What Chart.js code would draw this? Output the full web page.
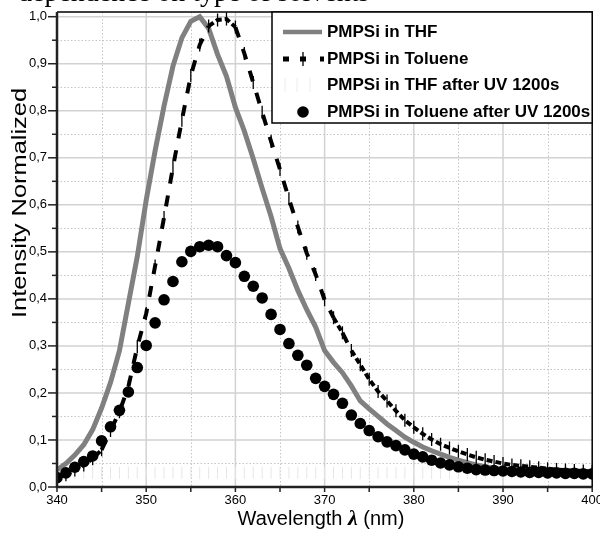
<!DOCTYPE html>
<html><head><meta charset="utf-8">
<style>html,body{margin:0;padding:0;background:#fff;}#wrap{position:relative;width:600px;height:534px;}</style>
<script src="https://cdn.jsdelivr.net/npm/chart.js@4.4.0/dist/chart.umd.min.js"></script>
</head><body><div id="wrap"><canvas id="c" width="600" height="534"></canvas></div>
<script>
const wavelengths = [340,341,342,343,344,345,346,347,348,349,350,351,352,353,354,355,356,357,358,359,360,361,362,363,364,365,366,367,368,369,370,371,372,373,374,375,376,377,378,379,380,381,382,383,384,385,386,387,388,389,390,391,392,393,394,395,396,397,398,399,400];
const thf = [0.036,0.05,0.068,0.09,0.122,0.168,0.222,0.29,0.39,0.49,0.61,0.715,0.81,0.895,0.955,0.99,1.0,0.975,0.92,0.873,0.807,0.757,0.698,0.635,0.575,0.507,0.465,0.418,0.377,0.34,0.29,0.265,0.243,0.215,0.183,0.166,0.15,0.134,0.12,0.106,0.095,0.085,0.077,0.07,0.063,0.057,0.052,0.047,0.043,0.04,0.037,0.035,0.033,0.032,0.031,0.03,0.029,0.028,0.028,0.027,0.027];
const toluene = [0.02,0.026,0.036,0.047,0.06,0.079,0.12,0.16,0.213,0.298,0.369,0.47,0.573,0.68,0.78,0.875,0.94,0.98,0.993,0.995,0.978,0.922,0.86,0.797,0.735,0.675,0.613,0.553,0.497,0.452,0.398,0.36,0.328,0.29,0.26,0.229,0.203,0.183,0.162,0.142,0.127,0.113,0.101,0.091,0.083,0.076,0.069,0.063,0.058,0.054,0.05,0.047,0.045,0.043,0.041,0.039,0.037,0.036,0.035,0.034,0.033];
const thfUV = [0.03,0.03,0.03,0.03,0.03,0.03,0.03,0.03,0.03,0.03,0.03,0.03,0.03,0.03,0.03,0.03,0.03,0.03,0.03,0.03,0.03,0.03,0.03,0.03,0.03,0.03,0.03,0.03,0.03,0.03,0.03,0.03,0.03,0.03,0.03,0.03,0.03,0.03,0.03,0.03,0.03,0.03,0.03,0.03,0.03,0.03,0.03,0.03,0.03,0.03,0.03,0.03,0.03,0.03,0.03,0.03,0.03,0.03,0.03,0.03,0.03];
const tolueneUV = [0.02,0.03,0.042,0.054,0.066,0.098,0.128,0.163,0.202,0.254,0.301,0.349,0.398,0.437,0.479,0.501,0.511,0.514,0.511,0.492,0.477,0.448,0.427,0.402,0.367,0.335,0.305,0.28,0.259,0.231,0.214,0.197,0.178,0.153,0.135,0.12,0.107,0.096,0.088,0.079,0.07,0.064,0.057,0.051,0.047,0.043,0.04,0.037,0.036,0.035,0.034,0.033,0.032,0.031,0.031,0.03,0.03,0.029,0.029,0.028,0.028];
const seriesNames = ['PMPSi in THF','PMPSi in Toluene','PMPSi in THF after UV 1200s','PMPSi in Toluene after UV 1200s'];
const xTickValues = [340,350,360,370,380,390,400];
const yTickValues = [0,0.1,0.2,0.3,0.4,0.5,0.6,0.7,0.8,0.9,1.0];
const xTitle = ['Wavelength ', 'λ', ' (nm)'];
const yTitle = 'Intensity Normalized';
const caption = 'dependence on type of solvents';

const pts = arr => wavelengths.map((x, i) => ({x, y: arr[i]}));
const mids = arr => arr.slice(1).map((v, i) => (v + arr[i]) / 2);
const SANS = '"Liberation Sans", Arial, sans-serif';

const decor = {
  id: 'decor',
  beforeDatasetsDraw(chart) {
    const {ctx, chartArea: a, scales: {x, y}} = chart;
    ctx.save();
    ctx.strokeStyle = '#c4c4c4'; ctx.lineWidth = 1; ctx.setLineDash([1.5, 2]);
    mids(xTickValues).forEach(v => { const p = Math.round(x.getPixelForValue(v)) + 0.5; ctx.beginPath(); ctx.moveTo(p, a.top); ctx.lineTo(p, a.bottom); ctx.stroke(); });
    mids(yTickValues).forEach(v => { const p = Math.round(y.getPixelForValue(v)) + 0.5; ctx.beginPath(); ctx.moveTo(a.left, p); ctx.lineTo(a.right, p); ctx.stroke(); });
    ctx.setLineDash([]); ctx.strokeStyle = '#d2d2d2'; ctx.lineWidth = 1.5;
    xTickValues.slice(1, -1).forEach(v => { const p = x.getPixelForValue(v); ctx.beginPath(); ctx.moveTo(p, a.top); ctx.lineTo(p, a.bottom); ctx.stroke(); });
    yTickValues.slice(1).forEach(v => { const p = y.getPixelForValue(v); ctx.beginPath(); ctx.moveTo(a.left, p); ctx.lineTo(a.right, p); ctx.stroke(); });
    ctx.restore();
  },
  afterDraw(chart) {
    const {ctx, chartArea: a, scales: {x, y}} = chart;
    ctx.save();
    ctx.strokeStyle = '#000'; ctx.lineWidth = 1.5;
    ctx.beginPath(); ctx.moveTo(a.left, a.top); ctx.lineTo(a.right, a.top); ctx.lineTo(a.right, a.bottom); ctx.stroke();
    ctx.strokeStyle = '#222'; ctx.lineWidth = 2.5;
    ctx.beginPath(); ctx.moveTo(a.left, a.top); ctx.lineTo(a.left, a.bottom); ctx.lineTo(a.right, a.bottom); ctx.stroke();
    ctx.lineWidth = 1.5; ctx.strokeStyle = '#222';
    yTickValues.forEach(v => { const p = y.getPixelForValue(v); ctx.beginPath(); ctx.moveTo(a.left - 9, p); ctx.lineTo(a.left, p); ctx.stroke(); });
    mids(yTickValues).forEach(v => { const p = y.getPixelForValue(v); ctx.beginPath(); ctx.moveTo(a.left - 5, p); ctx.lineTo(a.left, p); ctx.stroke(); });
    xTickValues.concat(mids(xTickValues)).forEach(v => { const p = x.getPixelForValue(v); ctx.beginPath(); ctx.moveTo(p, a.bottom); ctx.lineTo(p, a.bottom + 5); ctx.stroke(); });
    const L = {l: 272, t: a.top, r: a.right, b: 123};
    ctx.fillStyle = '#fff'; ctx.fillRect(L.l, L.t, L.r - L.l, L.b - L.t);
    ctx.strokeStyle = '#000'; ctx.lineWidth = 1.5; ctx.strokeRect(L.l, L.t, L.r - L.l, L.b - L.t);
    const rows = [32, 59, 85, 112];
    ctx.font = 'bold 17px ' + SANS; ctx.fillStyle = '#000'; ctx.textBaseline = 'middle'; ctx.textAlign = 'left';
    seriesNames.forEach((n, i) => ctx.fillText(n, 327, rows[i]));
    ctx.strokeStyle = '#808080'; ctx.lineWidth = 4.5;
    ctx.beginPath(); ctx.moveTo(283, rows[0]); ctx.lineTo(322, rows[0]); ctx.stroke();
    ctx.fillStyle = '#000';
    [[283, 6], [300, 6], [320, 4]].forEach(([px, w]) => ctx.fillRect(px, rows[1] - 2.5, w, 5));
    ctx.lineWidth = 1.3; ctx.strokeStyle = '#000';
    ctx.beginPath(); ctx.moveTo(303, rows[1] - 7); ctx.lineTo(303, rows[1] + 7); ctx.stroke();
    ctx.strokeStyle = '#ececec'; ctx.lineWidth = 1;
    [285, 297, 310].forEach(px => { ctx.beginPath(); ctx.moveTo(px, rows[2] - 7); ctx.lineTo(px, rows[2] + 7); ctx.stroke(); });
    ctx.beginPath(); ctx.arc(303, rows[3], 5.8, 0, Math.PI * 2); ctx.fill();
    ctx.save();
    ctx.translate(20, 203); ctx.rotate(-Math.PI / 2);
    ctx.font = '21px ' + SANS; ctx.textAlign = 'center'; ctx.textBaseline = 'middle';
    const w = ctx.measureText(yTitle).width; ctx.scale(230 / w, 1);
    ctx.fillStyle = '#000'; ctx.fillText(yTitle, 0, 0);
    ctx.restore();
    const fonts = ['20px ' + SANS, 'bold italic 22px "Liberation Serif", serif', '20px ' + SANS];
    let total = 0; const ws = xTitle.map((s, i) => { ctx.font = fonts[i]; const m = ctx.measureText(s).width; total += m; return m; });
    let cx = 321 - total / 2; ctx.textAlign = 'left'; ctx.textBaseline = 'alphabetic'; ctx.fillStyle = '#000';
    xTitle.forEach((s, i) => { ctx.font = fonts[i]; ctx.fillText(s, cx, 525); cx += ws[i]; });
    ctx.font = '28px "Liberation Serif", serif'; ctx.fillText(caption, 18, 0.5);
    ctx.restore();
  }
};

new Chart(document.getElementById('c'), {
  type: 'line',
  data: {
    datasets: [
      {label: seriesNames[0], data: pts(thf), borderColor: '#808080', borderWidth: 5, pointRadius: 0, tension: 0, order: 3},
      {label: seriesNames[2], data: pts(thfUV), showLine: false, pointStyle: 'line', pointRotation: 90, pointRadius: 6, pointBorderColor: '#e6e6e6', pointBorderWidth: 1, order: 2},
      {label: seriesNames[1], data: pts(toluene), borderColor: '#000', borderWidth: 4, tension: 0,
        segment: {borderDash: c => Math.hypot(c.p1.x - c.p0.x, c.p1.y - c.p0.y) < 18 ? [6, 3] : [11, 12]},
        pointStyle: 'line', pointRotation: 90, pointRadius: 6.5, pointBorderColor: '#000', pointBorderWidth: 1.3, order: 1},
      {label: seriesNames[3], data: pts(tolueneUV), showLine: false, pointStyle: 'circle', pointRadius: 5.8, pointBackgroundColor: '#000', pointBorderColor: '#000', pointBorderWidth: 0, order: 0}
    ]
  },
  options: {
    responsive: false, animation: false, devicePixelRatio: 1,
    layout: {padding: {top: 12, right: 4, left: 0, bottom: 0}},
    plugins: {legend: {display: false}, tooltip: {enabled: false}, title: {display: false}},
    scales: {
      x: {type: 'linear', min: 340, max: 400,
        grid: {display: false, drawTicks: false}, border: {display: false},
        afterBuildTicks: s => { s.ticks = xTickValues.map(v => ({value: v})); },
        ticks: {font: {family: SANS, size: 13}, color: '#000', padding: 6, maxRotation: 0, autoSkip: false, callback: v => String(v)},
        afterFit: s => { s.height = 47; s.paddingLeft = 0; s.paddingRight = 0; }},
      y: {type: 'linear', min: 0, max: 1.01,
        grid: {display: false, drawTicks: false}, border: {display: false},
        afterBuildTicks: s => { s.ticks = yTickValues.map(v => ({value: v})); },
        ticks: {font: {family: SANS, size: 13}, color: '#000', padding: 10, autoSkip: false, callback: v => v.toFixed(1).replace('.', ',')},
        afterFit: s => { s.width = 57; s.paddingTop = 0; s.paddingBottom = 0; }}
    }
  },
  plugins: [decor]
});
</script></body></html>
